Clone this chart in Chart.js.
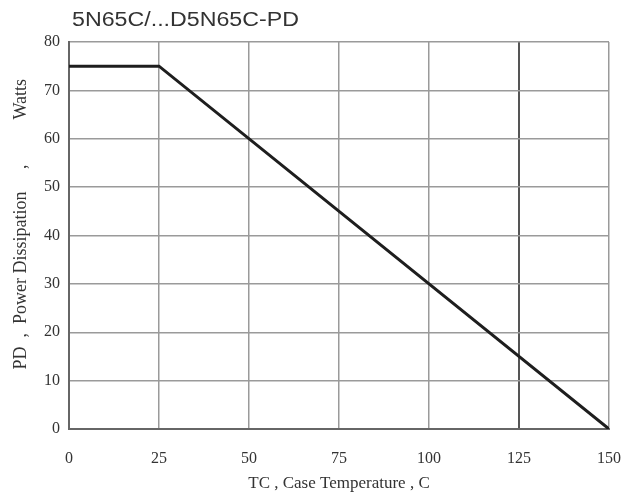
<!DOCTYPE html>
<html>
<head>
<meta charset="utf-8">
<script src="https://cdn.jsdelivr.net/npm/chart.js@4.4.1/dist/chart.umd.min.js"></script>
<style>
  html, body { margin: 0; padding: 0; background: #fff; }
  #wrap { width: 630px; height: 501px; position: relative; }
</style>
</head>
<body>
<div id="wrap"><canvas id="chart"></canvas></div>
<script>
// derating curve
const caseTemp = [0, 25, 150];
const powerDiss = [75, 75, 0];

const xTicks = [0, 25, 50, 75, 100, 125, 150];
const yTicks = [0, 10, 20, 30, 40, 50, 60, 70, 80];

const chartTitle = "5N65C/...D5N65C-PD";
const xTitle = "TC , Case Temperature , C";
const yTitle = "     PD  ,  Power Dissipation     ,          Watts";

const serif = "'Liberation Serif', 'Times New Roman', serif";

// top-left heading, slightly wide like the scan
const headingPlugin = {
  id: "heading",
  afterDraw(chart) {
    const ctx = chart.ctx;
    ctx.save();
    ctx.font = "20px 'Liberation Sans', Arial, sans-serif";
    ctx.fillStyle = "#333";
    ctx.textBaseline = "alphabetic";
    const w = ctx.measureText(chartTitle).width;
    ctx.translate(72, 26);
    ctx.scale(227 / w, 1);
    ctx.fillText(chartTitle, 0, 0);
    ctx.restore();
  }
};

const points = caseTemp.map((t, i) => ({ x: t, y: powerDiss[i] }));

new Chart(document.getElementById("chart"), {
  type: "line",
  data: {
    datasets: [{
      label: "PD",
      data: points,
      borderColor: "#1e1e1e",
      borderWidth: 3,
      pointRadius: 0,
      tension: 0,
      fill: false
    }]
  },
  options: {
    responsive: true,
    maintainAspectRatio: false,
    animation: false,
    layout: { padding: { top: 42, right: 21, left: 0, bottom: 0 } },
    plugins: {
      legend: { display: false },
      tooltip: { enabled: false },
      title: { display: false }
    },
    scales: {
      x: {
        type: "linear",
        min: 0,
        max: 150,
        afterBuildTicks: (scale) => { scale.ticks = xTicks.map(v => ({ value: v })); },
        afterFit: (scale) => {
          scale.height = 72;
          scale.paddingLeft = 0;
          scale.paddingRight = 0;
        },
        grid: {
          drawTicks: false,
          color: (c) => c.index === 5 ? "#555" : (c.index === 0 ? "#666" : "#9a9a9a"),
          lineWidth: (c) => c.index === 5 || c.index === 0 ? 2 : 1.5
        },
        border: { display: true, color: "#666", width: 2 },
        ticks: {
          padding: 20,
          color: "#333",
          font: { family: serif, size: 16 }
        },
        title: {
          display: true,
          text: xTitle,
          color: "#333",
          font: { family: serif, size: 17 },
          padding: { top: 0, bottom: 7 }
        }
      },
      y: {
        min: 0,
        max: 80,
        afterBuildTicks: (scale) => { scale.ticks = yTicks.map(v => ({ value: v })); },
        afterFit: (scale) => {
          scale.width = 69;
          scale.paddingTop = 0;
          scale.paddingBottom = 0;
        },
        grid: {
          drawTicks: false,
          color: (c) => c.index === 0 ? "#666" : "#9a9a9a",
          lineWidth: (c) => c.index === 0 ? 2 : 1.5
        },
        border: { display: true, color: "#666", width: 2 },
        ticks: {
          padding: 9,
          color: "#333",
          font: { family: serif, size: 16 }
        },
        title: {
          display: true,
          text: yTitle,
          color: "#333",
          font: { family: serif, size: 18 },
          padding: { top: 10, bottom: 0 }
        }
      }
    }
  },
  plugins: [headingPlugin]
});
</script>
</body>
</html>
